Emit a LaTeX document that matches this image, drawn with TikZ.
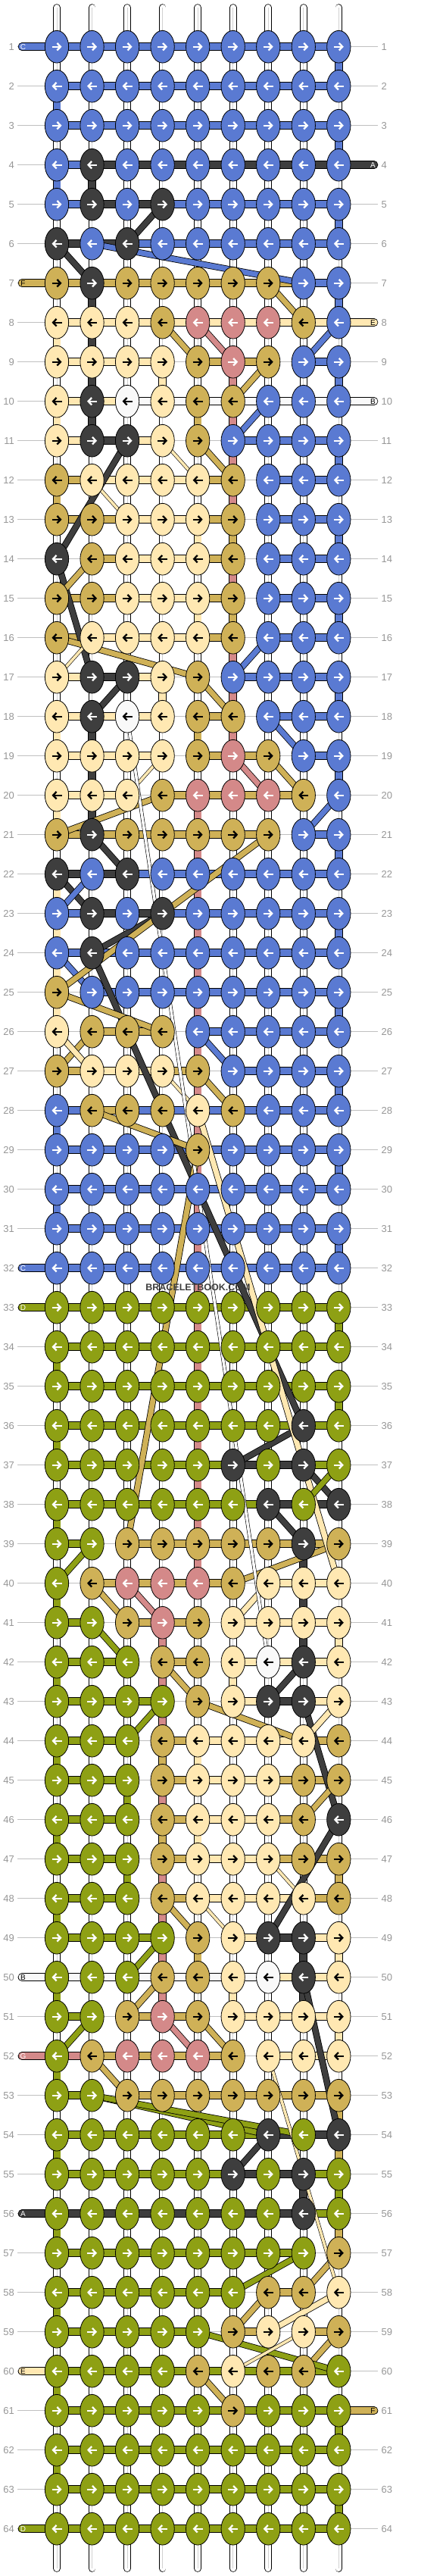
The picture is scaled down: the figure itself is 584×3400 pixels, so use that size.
\documentclass[tikz,border=0pt]{standalone}
\usepackage{fontspec}
\setmainfont{Liberation Sans}
\usetikzlibrary{shapes.geometric,arrows.meta}

\definecolor{cB}{RGB}{90,122,210}
\definecolor{cK}{RGB}{62,62,62}
\definecolor{cG}{RGB}{207,177,87}
\definecolor{cL}{RGB}{255,232,178}
\definecolor{cP}{RGB}{212,137,137}
\definecolor{cW}{RGB}{249,249,249}
\definecolor{cO}{RGB}{142,160,20}
\colorlet{aB}{white}\colorlet{aK}{white}\colorlet{aP}{white}\colorlet{aO}{white}
\colorlet{aG}{black}\colorlet{aL}{black}\colorlet{aW}{black}
\definecolor{numgray}{RGB}{150,150,150}
\definecolor{rulegray}{RGB}{192,192,192}

\pgfdeclarelayer{back}
\pgfdeclarelayer{warps}
\pgfdeclarelayer{strands}
\pgfdeclarelayer{carries}
\pgfsetlayers{back,warps,strands,carries,main}

\tikzset{
	knot/.style={ellipse, draw=black, line width=0.8pt, inner sep=0pt,
			minimum width=31.3pt, minimum height=42.7pt},
	way/.style={line width=2.3pt, -{Straight Barb[length=4.5pt,width=9.5pt]}},
	strand/.style={draw=black, line width=0.8pt, double distance=9pt},
	carry/.style={draw=black, line width=0.8pt, double distance=7pt},
	thread/.style={draw=black, line width=0.6pt, double distance=3.6pt},
	warp/.style={draw=black, line width=0.8pt, double=white, double distance=8pt, line cap=round},
	rowno/.style={text=numgray, inner sep=0pt, font=\fontsize{13}{13}\selectfont},
	endtag/.style={inner sep=0pt, font=\fontsize{10}{10}\selectfont}
}

\begin{document}
\begin{tikzpicture}[x=1pt,y=-1pt]
        \useasboundingbox (0,0) rectangle (584,3400);
        % knots row by row, then the row thread between them
        \foreach \r/\row/\bars in {
          1/{B,B,B,B,B,B,B,B,B}/{B,B,B,B,B,B,B,B},
          2/{B,B,B,B,B,B,B,B,B}/{B,B,B,B,B,B,B,B},
          3/{B,B,B,B,B,B,B,B,B}/{B,B,B,B,B,B,B,B},
          4/{B,K,B,B,B,B,B,B,B}/{B,K,K,K,K,K,K,K},
          5/{B,K,B,K,B,B,B,B,B}/{B,K,K,B,B,B,B,B},
          6/{K,B,K,B,B,B,B,B,B}/{K,K,B,B,B,B,B,B},
          7/{G,K,G,G,G,G,G,B,B}/{G,G,G,G,G,G,G,B},
          8/{L,L,L,G,P,P,P,G,B}/{L,L,L,L,L,L,L,L},
          9/{L,L,L,L,G,P,G,B,B}/{L,L,L,-,G,G,-,B},
          10/{L,K,W,L,G,G,B,B,B}/{L,L,W,W,W,W,W,W},
          11/{L,K,K,L,G,B,B,B,B}/{L,K,L,-,-,B,B,B},
          12/{G,L,L,L,L,G,B,B,B}/{G,L,L,L,G,-,B,B},
          13/{G,G,L,L,L,G,B,B,B}/{G,G,L,L,G,-,B,B},
          14/{K,G,L,L,L,G,B,B,B}/{-,G,L,L,G,-,B,B},
          15/{G,G,L,L,L,G,B,B,B}/{G,G,L,L,G,-,B,B},
          16/{G,L,L,L,L,G,B,B,B}/{G,L,L,L,G,-,B,B},
          17/{L,K,K,L,G,B,B,B,B}/{L,K,L,-,-,B,B,B},
          18/{L,K,W,L,G,G,B,B,B}/{L,L,L,-,G,-,B,B},
          19/{L,L,L,L,G,P,G,B,B}/{L,L,L,-,G,G,-,B},
          20/{L,L,L,G,P,P,P,G,B}/{L,L,-,G,G,G,G,-},
          21/{G,K,G,G,G,G,G,B,B}/{G,G,G,G,G,G,-,B},
          22/{K,B,K,B,B,B,B,B,B}/{K,K,B,B,B,B,B,B},
          23/{B,K,B,K,B,B,B,B,B}/{B,K,K,B,B,B,B,B},
          24/{B,K,B,B,B,B,B,B,B}/{B,B,B,B,B,B,B,B},
          25/{G,B,B,B,B,B,B,B,B}/{-,B,B,B,B,B,B,B},
          26/{L,G,G,G,B,B,B,B,B}/{-,G,G,-,B,B,B,B},
          27/{G,L,L,L,G,B,B,B,B}/{G,L,L,G,-,B,B,B},
          28/{B,G,G,G,L,G,B,B,B}/{B,G,B,B,B,B,B,B},
          29/{B,B,B,B,G,B,B,B,B}/{B,B,B,B,B,B,B,B},
          30/{B,B,B,B,B,B,B,B,B}/{B,B,B,B,B,B,B,B},
          31/{B,B,B,B,B,B,B,B,B}/{B,B,B,B,B,B,B,B},
          32/{B,B,B,B,B,B,B,B,B}/{B,B,B,B,B,B,B,B},
          33/{O,O,O,O,O,O,O,O,O}/{O,O,O,O,O,O,O,O},
          34/{O,O,O,O,O,O,O,O,O}/{O,O,O,O,O,O,O,O},
          35/{O,O,O,O,O,O,O,O,O}/{O,O,O,O,O,O,O,O},
          36/{O,O,O,O,O,O,O,K,O}/{O,O,O,O,O,O,O,O},
          37/{O,O,O,O,O,K,O,K,O}/{O,O,O,O,O,K,K,O},
          38/{O,O,O,O,O,O,K,O,K}/{O,O,O,O,O,O,K,K},
          39/{O,O,G,G,G,G,G,K,G}/{O,-,G,G,G,G,G,G},
          40/{O,G,P,P,P,G,L,L,L}/{-,G,G,G,G,-,L,L},
          41/{O,O,G,P,G,L,L,L,L}/{O,-,G,G,-,L,L,L},
          42/{O,O,O,G,G,L,W,K,L}/{O,O,-,G,-,L,L,L},
          43/{O,O,O,O,G,L,K,K,L}/{O,O,O,-,-,L,K,L},
          44/{O,O,O,G,L,L,L,L,G}/{O,O,-,G,L,L,L,G},
          45/{O,O,O,G,L,L,L,G,G}/{O,O,-,G,L,L,G,G},
          46/{O,O,O,G,L,L,L,G,K}/{O,O,-,G,L,L,G,-},
          47/{O,O,O,G,L,L,L,G,G}/{O,O,-,G,L,L,G,G},
          48/{O,O,O,G,L,L,L,L,G}/{O,O,-,G,L,L,L,G},
          49/{O,O,O,O,G,L,K,K,L}/{O,O,O,-,-,L,K,L},
          50/{O,O,O,G,G,L,W,K,L}/{W,W,W,W,W,W,L,L},
          51/{O,O,G,P,G,L,L,L,L}/{O,-,G,G,-,L,L,L},
          52/{O,G,P,P,P,G,L,L,L}/{P,G,G,G,G,-,L,L},
          53/{O,O,G,G,G,G,G,G,G}/{O,-,G,G,G,G,G,G},
          54/{O,O,O,O,O,O,K,O,K}/{O,O,O,O,O,O,K,K},
          55/{O,O,O,O,O,K,O,K,O}/{O,O,O,O,O,K,K,O},
          56/{O,O,O,O,O,O,O,K,O}/{K,K,K,K,K,K,K,O},
          57/{O,O,O,O,O,O,O,O,G}/{O,O,O,O,O,O,O,-},
          58/{O,O,O,O,O,O,G,G,L}/{O,O,O,O,O,-,G,-},
          59/{O,O,O,O,O,G,L,L,G}/{O,O,O,O,-,G,-,G},
          60/{O,O,O,O,G,L,G,G,O}/{O,O,O,O,O,O,O,O},
          61/{O,O,O,O,O,G,O,O,O}/{O,O,O,O,O,O,O,O},
          62/{O,O,O,O,O,O,O,O,O}/{O,O,O,O,O,O,O,O},
          63/{O,O,O,O,O,O,O,O,O}/{O,O,O,O,O,O,O,O},
          64/{O,O,O,O,O,O,O,O,O}/{O,O,O,O,O,O,O,O}}{
            \foreach \kc [count=\j] in \row {
                \node[knot, fill=c\kc] (n-\r-\j) at ({75+46.54*(\j-1)},{61.7+52*(\r-1)}) {};
                \ifodd\r
                    \draw[way, color=a\kc] ([xshift=-6.5pt]n-\r-\j.center) -- ([xshift=6.5pt]n-\r-\j.center);
                \else
                    \draw[way, color=a\kc] ([xshift=6.5pt]n-\r-\j.center) -- ([xshift=-6.5pt]n-\r-\j.center);
                \fi
            }
            \begin{pgfonlayer}{strands}
            \foreach \bc [count=\j] in \bars {
                \if\bc-\else
                    \pgfmathtruncatemacro\k{\j+1}
                    \draw[strand, double=c\bc] (n-\r-\j.center) -- (n-\r-\k.center);
                \fi
            }
            \end{pgfonlayer}
        }
        % row numbers and guide lines
        \foreach \r in {1,...,64}{
            \coordinate (gl-\r) at (23,{61.7+52*(\r-1)});
            \coordinate (gr-\r) at (499,{61.7+52*(\r-1)});
            \node[rowno, anchor=east] (nl-\r) at (19,{61.7+52*(\r-1)}) {\r};
            \node[rowno, anchor=west] (nr-\r) at (503.5,{61.7+52*(\r-1)}) {\r};
            \begin{pgfonlayer}{back}
            \draw[rulegray, line width=0.8pt] (gl-\r) -- (gr-\r);
            \end{pgfonlayer}
        }
        % warps
        \foreach \cc in {1,...,9}{
            \coordinate (wt-\cc) at ({75+46.54*(\cc-1)},10);
            \coordinate (wb-\cc) at ({75+46.54*(\cc-1)},3390);
            \begin{pgfonlayer}{warps}
            \draw[warp] (wt-\cc) -- (wb-\cc);
            \draw[black!18, line width=0.6pt] (wt-\cc) -- (wb-\cc);
            \end{pgfonlayer}
        }
        % thread going down between two rows
        \begin{pgfonlayer}{strands}
        \foreach \r/\cc/\vc in {1/9/B,2/1/B,3/9/B,4/1/B,5/9/B,7/9/B,8/1/L,9/9/B,10/1/L,11/9/B,12/1/G,13/9/B,
          15/9/B,17/9/B,18/1/L,19/9/B,20/1/L,21/9/B,22/1/L,23/9/B,24/1/L,25/9/B,27/9/B,28/1/B,29/9/B,
          30/1/B,31/9/B,33/9/O,34/1/O,35/9/O,36/1/O,38/1/O,40/1/O,41/9/L,42/1/O,44/1/O,46/1/O,47/9/G,
          48/1/O,49/9/L,50/1/O,51/9/L,52/1/O,53/9/G,54/1/O,55/9/O,56/1/O,58/1/O,60/1/O,61/9/O,62/1/O,63/9/O,
          4/2/K,7/2/K,8/2/K,9/2/K,10/2/K,18/2/K,19/2/K,20/2/K,
          9/6/P,10/6/P,11/6/P,12/6/P,14/6/P,16/6/P,17/6/P,18/6/P,13/6/G,15/6/G,
          13/5/L,15/5/L,9/4/L,17/4/L,10/5/G,18/5/G,23/1/L,25/1/L,
          20/5/P,21/5/P,22/5/P,23/5/P,24/5/P,25/5/P,26/5/P,27/5/P,28/5/P,29/5/P,
          30/5/P,31/5/P,32/5/P,33/5/P,34/5/P,35/5/P,36/5/P,37/5/P,38/5/P,39/5/P,
          39/8/K,40/8/K,41/8/K,49/8/K,50/8/K,55/8/K,
          41/4/P,42/4/P,43/4/P,44/4/G,45/4/P,46/4/G,47/4/P,48/4/P,49/4/P,50/4/P,
          42/6/L,44/5/L,46/5/L,50/6/L,45/3/O,47/3/O,49/5/G,54/9/G,56/9/G}{
            \pgfmathtruncatemacro\s{\r+1}
            \draw[strand, double=c\vc] (n-\r-\cc.center) -- (n-\s-\cc.center);
        }
        \end{pgfonlayer}
        % carried threads
        \begin{pgfonlayer}{carries}
        \foreach \ra/\ca/\rb/\cb/\dc in {5/4/6/3/K,6/1/7/2/K,11/3/14/1/K,14/1/17/2/K,17/3/18/2/K,
          21/2/22/3/K,22/1/23/2/K,23/4/24/2/K,24/2/26/3/K,26/3/36/8/K,36/8/37/6/K,37/8/38/9/K,
          38/7/39/8/K,42/8/43/7/K,43/8/46/9/K,46/9/49/7/K,50/8/54/9/K,54/7/55/6/K,
          6/2/7/8/B,8/9/9/8/B,10/7/11/6/B,16/7/17/6/B,18/7/19/8/B,20/9/21/8/B,22/2/23/1/B,
          24/1/25/2/B,26/5/27/6/B,
          7/7/8/8/G,8/4/9/5/G,9/7/10/6/G,11/5/12/6/G,14/2/15/1/G,16/1/17/5/G,17/5/18/6/G,
          19/7/20/8/G,20/4/21/1/G,21/7/23/4/G,23/4/25/1/G,25/1/26/4/G,26/2/27/1/G,27/5/28/6/G,
          28/2/29/5/G,29/5/39/3/G,39/9/40/6/G,40/2/41/3/G,42/4/43/5/G,43/5/44/8/G,45/9/46/8/G,
          48/4/49/5/G,50/4/51/3/G,51/5/52/6/G,52/2/53/3/G,57/9/58/8/G,58/7/59/6/G,59/9/60/8/G,
          60/5/61/6/G,
          8/5/9/6/P,19/6/20/7/P,40/3/41/4/P,51/4/52/5/P,
          26/1/27/2/L,28/5/40/9/L,40/7/41/6/L,43/9/44/8/L,58/9/59/7/L,
          37/9/38/8/O,39/2/40/1/O,41/2/42/3/O,43/4/44/3/O,49/4/50/3/O,51/2/52/1/O,
          53/2/54/7/O,53/2/54/8/O,57/8/58/6/O,59/5/60/9/O}{
            \draw[carry, double=c\dc] (n-\ra-\ca.center) -- (n-\rb-\cb.center);
        }
        \foreach \ra/\ca/\rb/\cb/\dc in {11/4/12/5/L,12/2/13/3/L,16/2/17/1/L,19/4/20/3/L,
          27/4/28/5/L,47/7/48/8/L,48/5/49/6/L,52/7/58/9/L,59/8/60/6/L,18/3/42/7/W}{
            \draw[thread, double=c\dc] (n-\ra-\ca.center) -- (n-\rb-\cb.center);
        }
        \end{pgfonlayer}
        % loose ends of the threads
        \foreach \r/\lbl/\sc in {1/C/B,7/F/G,32/C/B,33/D/O,50/B/W,52/G/P,56/A/K,60/E/L,64/D/O}{
            \coordinate (sl-\r) at (29,{61.7+52*(\r-1)});
            \begin{pgfonlayer}{strands}
            \draw[strand, double=c\sc, line cap=round] (n-\r-1.center) -- (sl-\r);
            \end{pgfonlayer}
            \node[endtag, text=a\sc] (tl-\r) at (30.5,{61.7+52*(\r-1)}) {\lbl};
        }
        \foreach \r/\lbl/\sc in {4/A/K,8/E/L,10/B/W,61/F/G}{
            \coordinate (sr-\r) at (494,{61.7+52*(\r-1)});
            \begin{pgfonlayer}{strands}
            \draw[strand, double=c\sc, line cap=round] (n-\r-9.center) -- (sr-\r);
            \end{pgfonlayer}
            \node[endtag, text=a\sc] (tr-\r) at (492.5,{61.7+52*(\r-1)}) {\lbl};
        }
        \node[text=cK, inner sep=0pt, font=\bfseries\fontsize{12.5}{12.5}\selectfont] (mark) at (261.5,1699) {BRACELETBOOK.COM};
\end{tikzpicture}
\end{document}
